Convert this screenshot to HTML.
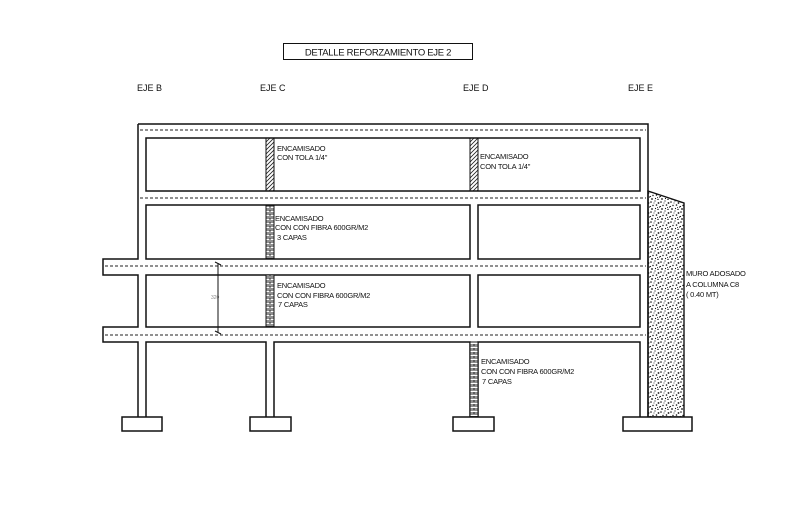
<!DOCTYPE html>
<html><head><meta charset="utf-8"><style>
html,body{margin:0;padding:0;background:#fff;}
svg{display:block;}
text{font-family:"Liberation Sans",sans-serif;fill:#111;}
.t{font-size:7.5px;letter-spacing:-0.2px;}
</style></head><body>
<svg width="800" height="510" viewBox="0 0 800 510" xmlns="http://www.w3.org/2000/svg">
<defs>
<pattern id="hat" width="4" height="4" patternUnits="userSpaceOnUse">
<path d="M0,4 L4,0 M-1,1 L1,-1 M3,5 L5,3" stroke="#222" stroke-width="0.8"/>
</pattern>
<pattern id="brk" width="8" height="4" patternUnits="userSpaceOnUse">
<rect width="8" height="4" fill="#fff"/>
<path d="M0,0 H8 M0,2 H8 M2,0 V2 M6,2 V4" stroke="#222" stroke-width="0.9"/>
</pattern>
<pattern id="dot" width="10" height="10" patternUnits="userSpaceOnUse">
<rect width="10" height="10" fill="#fff"/>
<g fill="#111">
<circle cx="1" cy="2" r="0.8"/><circle cx="5" cy="1" r="0.6"/><circle cx="8.5" cy="3" r="0.9"/>
<circle cx="3" cy="5.5" r="0.7"/><circle cx="6.5" cy="5" r="0.8"/><circle cx="9.5" cy="7" r="0.6"/>
<circle cx="2" cy="9" r="0.9"/><circle cx="5.5" cy="8.5" r="0.6"/><circle cx="8" cy="9.5" r="0.7"/>
<circle cx="4" cy="3" r="0.5"/><circle cx="7.5" cy="7.5" r="0.5"/><circle cx="0.5" cy="6.5" r="0.6"/>
</g>
</pattern>
</defs>

<rect x="283.5" y="43.5" width="189" height="16" fill="none" stroke="#111" stroke-width="1"/>
<text x="378" y="55.5" text-anchor="middle" style="font-size:9.5px;letter-spacing:-0.3px">DETALLE REFORZAMIENTO EJE 2</text>
<text x="137" y="91" style="font-size:9px">EJE B</text>
<text x="260" y="91" style="font-size:9px">EJE C</text>
<text x="463" y="91" style="font-size:9px">EJE D</text>
<text x="628" y="91" style="font-size:9px">EJE E</text>

<polygon points="648,191 684,203 684,417 648,417" fill="url(#dot)" stroke="#111" stroke-width="1.4"/>

<g fill="none" stroke="#111" stroke-width="1.5">
<path d="M138,124 H648 V417 M640,417 V342 H478 V417 M470,417 V342 H274 V417 M266,417 V342 H146 V417 M138,417 V342 H103 V327 H138 V275 H103 V259 H138 V124"/>
<rect x="146" y="138" width="494" height="53"/>
<rect x="146" y="205" width="324" height="54"/>
<rect x="478" y="205" width="162" height="54"/>
<rect x="146" y="275" width="324" height="52"/>
<rect x="478" y="275" width="162" height="52"/>
<rect x="122" y="417" width="40" height="14" fill="#fff"/>
<rect x="250" y="417" width="41" height="14" fill="#fff"/>
<rect x="453" y="417" width="41" height="14" fill="#fff"/>
<rect x="623" y="417" width="69" height="14" fill="#fff"/>
</g>

<g stroke="#222" stroke-width="1" stroke-dasharray="3,2">
<line x1="140" y1="130" x2="646" y2="130"/>
<line x1="140" y1="198" x2="646" y2="198"/>
<line x1="105" y1="266" x2="646" y2="266"/>
<line x1="105" y1="335" x2="646" y2="335"/>
</g>

<rect x="266" y="138" width="8" height="53" fill="url(#hat)" stroke="#111" stroke-width="1"/>
<rect x="470" y="138" width="8" height="53" fill="url(#hat)" stroke="#111" stroke-width="1"/>
<rect x="266" y="205" width="8" height="54" fill="url(#brk)" stroke="#111" stroke-width="1"/>
<rect x="266" y="275" width="8" height="52" fill="url(#brk)" stroke="#111" stroke-width="1"/>
<rect x="470" y="342" width="8" height="75" fill="url(#brk)" stroke="#111" stroke-width="1"/>

<line x1="218" y1="263" x2="218" y2="333" stroke="#111" stroke-width="1"/>
<path d="M215,262 L221,265 M215,331 L221,334" stroke="#111" stroke-width="1"/>
<text x="211" y="299" style="font-size:5px;fill:#888">320</text>

<text class="t" x="277" y="151">ENCAMISADO</text>
<text class="t" x="277" y="160">CON TOLA 1/4"</text>
<text class="t" x="480" y="159">ENCAMISADO</text>
<text class="t" x="480" y="169">CON TOLA 1/4"</text>
<text class="t" x="275" y="221">ENCAMISADO</text>
<text class="t" x="275" y="230">CON CON FIBRA 600GR/M2</text>
<text class="t" x="277" y="240">3 CAPAS</text>
<text class="t" x="277" y="288">ENCAMISADO</text>
<text class="t" x="277" y="298">CON CON FIBRA 600GR/M2</text>
<text class="t" x="278" y="307">7 CAPAS</text>
<text class="t" x="481" y="364">ENCAMISADO</text>
<text class="t" x="481" y="374">CON CON FIBRA 600GR/M2</text>
<text class="t" x="482" y="384">7 CAPAS</text>
<text class="t" x="686" y="276">MURO ADOSADO</text>
<text class="t" x="686" y="287">A COLUMNA C8</text>
<text class="t" x="686" y="297">( 0.40 MT)</text>
</svg>
</body></html>
